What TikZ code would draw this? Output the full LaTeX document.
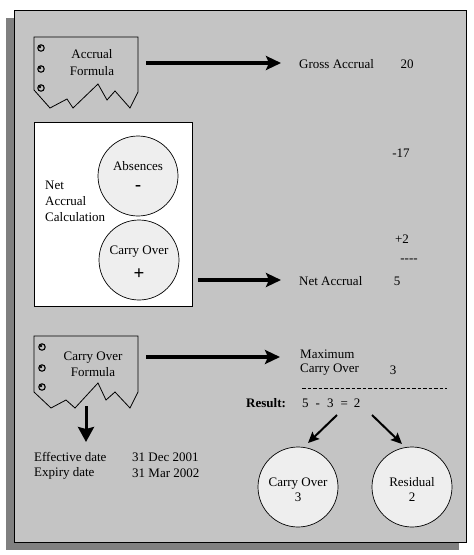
\documentclass[tikz,border=0pt]{standalone}
\usepackage{fontspec}
\setmainfont{Liberation Serif}
\usetikzlibrary{arrows.meta}
\definecolor{panel}{RGB}{196,196,196}
\definecolor{shadowgray}{RGB}{128,128,128}
\definecolor{circfill}{RGB}{238,238,238}
\tikzset{
  txt/.style={inner sep=0pt, font=\fontsize{13}{16}\selectfont},
  lt/.style={txt, anchor=west},
  bigarrow/.style={line width=3.6pt, -{Stealth[length=15pt,width=14pt,inset=3pt]}},
  smallarrow/.style={line width=2pt, -{Stealth[length=11pt,width=10pt,inset=2pt]}},
  ball/.style={circle, draw, line width=0.7pt, fill=circfill, minimum size=80pt, inner sep=0pt},
  tornpage/.style={draw, line width=0.8pt, fill=panel},
  bullet/.style={draw, line width=1.1pt, fill=panel}
}
\begin{document}
\begin{tikzpicture}[x=1pt,y=-1pt]
\useasboundingbox (0,0) rectangle (474,555);
% panel and shadow
\fill[shadowgray] (6,18) rectangle (459,550);
\filldraw[fill=panel, draw=black, line width=1pt] (14,10) rectangle (466,542);

% --- Accrual Formula (torn page)
\path[tornpage] (34,37) -- (138,37) -- (138,92) -- (130,108) -- (115,91) -- (107,100) -- (98,84) -- (73,108) -- (67,99) -- (50,108) -- (34,90) -- cycle;
\foreach \yy in {48,69,88} {\draw[bullet] (41,\yy) circle (3.2); \fill (40,\yy-1) circle (1.3);}
\node[txt, align=center, font=\fontsize{13}{17}\selectfont] (accf) at (92,62.5) {Accrual\\Formula};
\coordinate (a1s) at (146,63);
\coordinate (a1e) at (281,63);
\draw[bigarrow] (a1s) -- (a1e);

% right column
\node[lt] (gross) at (299,64) {Gross Accrual};
\node[txt] (g20) at (407,64) {20};
\node[txt] (m17) at (401,153) {-17};
\node[txt] (p2) at (402,239) {+2};
\node[txt] (dsh) at (409,261) {{-}{-}{-}{-}};
\node[lt] (net) at (299,281) {Net Accrual};
\node[txt] (n5) at (397,281) {5};

% --- Net Accrual Calculation box
\draw[fill=white, line width=0.8pt] (34,122) rectangle (192,306);
\node[lt, align=left] (nac) at (45,201) {Net\\Accrual\\Calculation};
\node[ball] (abs) at (138,176) {};
\node[txt] at (138,166) {Absences};
\node[txt, font=\bfseries\fontsize{18}{18}\selectfont] at (138,188) {-};
\node[ball] (cov) at (139,260) {};
\node[txt] at (139,252) {Carry Over};
\node[txt, font=\bfseries\fontsize{19}{19}\selectfont] at (139,274) {+};
\coordinate (a2s) at (198,280);
\coordinate (a2e) at (281,280);
\draw[bigarrow] (a2s) -- (a2e);

% --- Carry Over Formula (torn page)
\path[tornpage] (34,336) -- (138,336) -- (138,392) -- (130,408) -- (115,392) -- (106,400) -- (98,383) -- (75,408) -- (66,400) -- (51,408) -- (34,392) -- cycle;
\foreach \yy in {347,368,387} {\draw[bullet] (42,\yy) circle (3.2); \fill (41,\yy-1) circle (1.3);}
\node[txt, align=center] (covf) at (93,364) {Carry Over\\Formula};
\coordinate (a3s) at (146,357);
\coordinate (a3e) at (280,357);
\draw[bigarrow] (a3s) -- (a3e);
\coordinate (dns) at (86,406);
\coordinate (dne) at (86,442);
\draw[line width=3pt, -{Stealth[length=15pt,width=16pt,inset=2pt]}] (dns) -- (dne);

\node[lt] (eff) at (34,457) {Effective date};
\node[lt] (exp) at (34,473) {Expiry date};
\node[lt] (effd) at (132,457) {31 Dec 2001};
\node[lt] (expd) at (132,473) {31 Mar 2002};

% Maximum carry over
\node[lt] (max) at (300,354) {Maximum};
\node[lt] (maxc) at (300,370) {Carry Over};
\node[txt] (max3) at (393,370) {3};
\draw[line width=0.7pt, dash pattern=on 3.5pt off 2pt] (302,388) -- (447,388);
\node[lt, font=\bfseries\fontsize{13}{16}\selectfont] (res) at (246,403) {Result:};
\node[lt] (eq) at (302,403) {5\hspace{7pt}-\hspace{7pt}3\hspace{7pt}=\hspace{6pt}2};

\node[ball] (cres) at (298,487) {};
\node[txt, align=center, font=\fontsize{13}{15}\selectfont] at (298,489.5) {Carry Over\\3};
\node[ball] (rres) at (412,487) {};
\node[txt, align=center, font=\fontsize{13}{15}\selectfont] at (412,489.5) {Residual\\2};
\coordinate (r1s) at (337,415);
\coordinate (r1e) at (308,443);
\coordinate (r2s) at (372,415);
\coordinate (r2e) at (402,444);
\draw[smallarrow] (r1s) -- (r1e);
\draw[smallarrow] (r2s) -- (r2e);
\end{tikzpicture}
\end{document}
